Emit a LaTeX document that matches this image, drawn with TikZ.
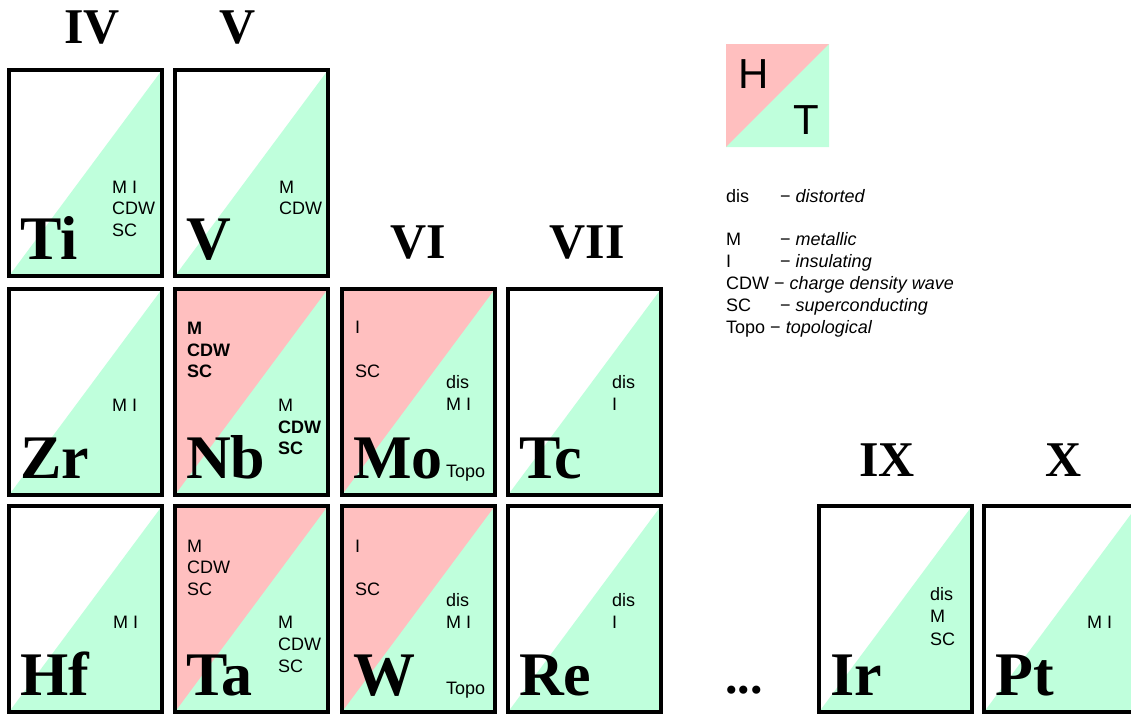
\documentclass[tikz,border=0pt]{standalone}
\usepackage{fontspec}
\setmainfont{Liberation Serif}
\setsansfont{Liberation Sans}
\definecolor{hpink}{RGB}{255,191,191}
\definecolor{tgreen}{RGB}{191,255,220}
\tikzset{
 cellborder/.style={draw=black, line width=4pt, minimum width=153pt, minimum height=206pt, inner sep=0pt},
 sym/.style={anchor=base west, inner sep=0pt, font=\fontsize{62}{62}\selectfont\bfseries},
 grp/.style={anchor=base, inner sep=0pt, font=\fontsize{50}{50}\selectfont\bfseries},
 lbl/.style={anchor=base west, inner sep=0pt, font=\fontsize{18}{20}\selectfont\sffamily},
 blbl/.style={anchor=base west, inner sep=0pt, font=\fontsize{18}{20}\selectfont\sffamily\bfseries},
 bigl/.style={anchor=base west, inner sep=0pt, font=\fontsize{42}{42}\selectfont\sffamily},
}
\newcommand\ecell[5]{%
 \fill[#4] (#2+2,#3+2) rectangle (#2+155,#3+208);
 \fill[tgreen] (#2+2,#3+208) -- (#2+155,#3+208) -- (#2+155,#3+2) -- cycle;
 \node[cellborder] (#1) at (#2+78.5,#3+105) {};
 \node[sym] (#1-sym) at (#2+13,#3+191) {#5};
}
\begin{document}
\begin{tikzpicture}[x=1pt,y=-1pt]
\useasboundingbox (0,0) rectangle (1131,715);
% group labels
\node[grp] (gIV) at (92,43) {IV};
\node[grp] (gV) at (238,43) {V};
\node[grp] (gVI) at (418,258) {VI};
\node[grp] (gVII) at (587,258) {VII};
\node[grp] (gIX) at (887,476) {IX};
\node[grp] (gX) at (1064,476) {X};
\node[grp] (dots) at (744,693) {...};
% cells
\ecell{Ti}{7}{68}{white}{Ti}
\ecell{V}{173}{68}{white}{V}
\ecell{Zr}{7}{287}{white}{Zr}
\ecell{Nb}{173}{287}{hpink}{Nb}
\ecell{Mo}{340}{287}{hpink}{Mo}
\ecell{Tc}{506}{287}{white}{Tc}
\ecell{Hf}{7}{504}{white}{Hf}
\ecell{Ta}{173}{504}{hpink}{Ta}
\ecell{W}{340}{504}{hpink}{W}
\ecell{Re}{506}{504}{white}{Re}
\ecell{Ir}{817}{504}{white}{Ir}
\ecell{Pt}{982}{504}{white}{Pt}
% Ti
\node[lbl] (Ti1) at (7+105,68+125) {M I};
\node[lbl] (Ti2) at (7+105,68+146) {CDW};
\node[lbl] (Ti3) at (7+105,68+168) {SC};
% V
\node[lbl] (V1) at (173+106,68+125) {M};
\node[lbl] (V2) at (173+106,68+146) {CDW};
% Zr
\node[lbl] (Zr1) at (7+105,287+124) {M I};
% Nb
\node[blbl] (Nbu1) at (173+14,287+47) {M};
\node[blbl] (Nbu2) at (173+14,287+69) {CDW};
\node[blbl] (Nbu3) at (173+14,287+90) {SC};
\node[lbl] (Nbl1) at (173+105,287+124) {M};
\node[blbl] (Nbl2) at (173+105,287+146) {CDW};
\node[blbl] (Nbl3) at (173+105,287+167) {SC};
% Mo
\node[lbl] (Mou1) at (340+15,287+46) {I};
\node[lbl] (Mou2) at (340+15,287+90) {SC};
\node[lbl] (Mol1) at (340+106,287+101) {dis};
\node[lbl] (Mol2) at (340+106,287+123) {M I};
\node[lbl] (Mol3) at (340+106,287+190) {Topo};
% Tc
\node[lbl] (Tc1) at (506+106,287+101) {dis};
\node[lbl] (Tc2) at (506+106,287+123) {I};
% Hf
\node[lbl] (Hf1) at (7+106,504+124) {M I};
% Ta
\node[lbl] (Tau1) at (173+14,504+48) {M};
\node[lbl] (Tau2) at (173+14,504+69) {CDW};
\node[lbl] (Tau3) at (173+14,504+91) {SC};
\node[lbl] (Tal1) at (173+105,504+124) {M};
\node[lbl] (Tal2) at (173+105,504+146) {CDW};
\node[lbl] (Tal3) at (173+105,504+168) {SC};
% W
\node[lbl] (Wu1) at (340+15,504+48) {I};
\node[lbl] (Wu2) at (340+15,504+91) {SC};
\node[lbl] (Wl1) at (340+106,504+102) {dis};
\node[lbl] (Wl2) at (340+106,504+124) {M I};
\node[lbl] (Wl3) at (340+106,504+190) {Topo};
% Re
\node[lbl] (Re1) at (506+106,504+102) {dis};
\node[lbl] (Re2) at (506+106,504+124) {I};
% Ir
\node[lbl] (Ir1) at (817+113,504+96) {dis};
\node[lbl] (Ir2) at (817+113,504+118) {M};
\node[lbl] (Ir3) at (817+113,504+141) {SC};
% Pt
\node[lbl] (Pt1) at (982+105,504+124) {M I};
% legend
\fill[hpink] (726,44) rectangle (829,147);
\fill[tgreen] (726,147) -- (829,147) -- (829,44) -- cycle;
\node[bigl] (legH) at (738,88) {H};
\node[bigl] (legT) at (793,134) {T};
\node[lbl] (k1) at (726,202) {dis};
\node[lbl] (d1) at (780,202) {− \textit{distorted}};
\node[lbl] (k2) at (726,245) {M};
\node[lbl] (d2) at (780,245) {− \textit{metallic}};
\node[lbl] (k3) at (726,267) {I};
\node[lbl] (d3) at (780,267) {− \textit{insulating}};
\node[lbl] (k4) at (726,289) {CDW − \textit{charge density wave}};
\node[lbl] (k5) at (726,311) {SC};
\node[lbl] (d5) at (780,311) {− \textit{superconducting}};
\node[lbl] (k6) at (726,333) {Topo − \textit{topological}};
\end{tikzpicture}
\end{document}
